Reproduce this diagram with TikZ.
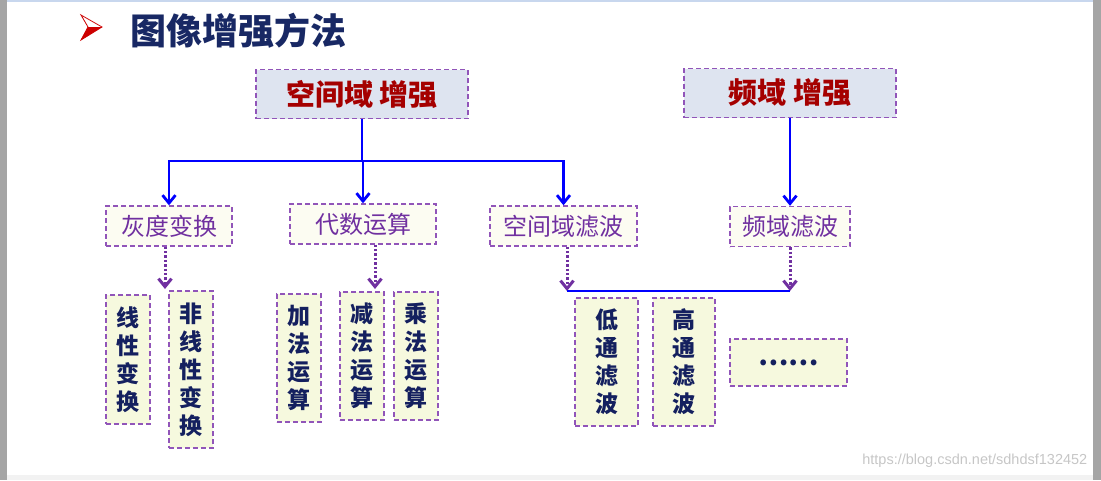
\documentclass[tikz,border=0pt]{standalone}
\usepackage{fontspec}
\newfontfamily\cjk{Noto Sans CJK SC}
\newfontfamily\urlfont{Liberation Sans}
\usetikzlibrary{positioning,arrows.meta}
\definecolor{navy}{RGB}{24,40,100}
\definecolor{leafnavy}{RGB}{20,32,95}
\definecolor{darkred}{RGB}{165,0,0}
\definecolor{violet}{RGB}{112,48,160}
\definecolor{boxline}{RGB}{145,85,185}
\definecolor{pureblue}{RGB}{0,0,255}
\definecolor{topfill}{RGB}{222,228,240}
\definecolor{midfill}{RGB}{252,252,242}
\definecolor{leaffill}{RGB}{246,249,222}
\definecolor{bulletred}{RGB}{205,0,0}
\definecolor{frame}{RGB}{165,165,165}
\definecolor{topline}{RGB}{200,215,238}

\begin{document}
\begin{tikzpicture}[x=1pt,y=-1pt,thick,
    box/.style={draw=boxline,line width=1.3pt,dash pattern=on 5pt off 3pt,inner sep=0pt,align=center},
    topbox/.style={box,fill=topfill,minimum width=212pt,minimum height=49pt,text=darkred,font=\cjk\bfseries\fontsize{29}{32}\selectfont},
    midbox/.style={box,fill=midfill,minimum height=40pt,text=violet,font=\cjk\fontsize{24}{28}\selectfont},
    leafbox/.style={box,fill=leaffill,minimum width=44pt,minimum height=128pt,text=leafnavy,font=\cjk\bfseries\fontsize{23}{28}\selectfont},
    blueline/.style={draw=pureblue,line width=2.8pt},
    bluearrow/.style={blueline,-{Straight Barb[length=8pt,width=13pt]}},
    dotarrow/.style={draw=violet,line width=3pt,dash pattern=on 2.4pt off 2pt,-{Straight Barb[length=8pt,width=13pt]}}]
  \useasboundingbox (0,0) rectangle (1101,480);
  % screenshot frame
  \fill[frame] (0,0) rectangle (7,480);
  \fill[frame] (1093,0) rectangle (1101,480);
  \fill[gray!10] (7,475) rectangle (1093,480);
  \fill[topline] (7,0) rectangle (1093,1.5);

  % heading
  \filldraw[draw=bulletred,fill=white,line width=0.8pt] (81,15) -- (102,27) -- (81,40) -- (88,27) -- cycle;
  \fill[bulletred] (88,27) -- (102,27) -- (81,40) -- cycle;
  \node[text=navy,font=\cjk\bfseries\fontsize{36}{40}\selectfont] (title) at (238,31) {图像增强方法};

  % first level
  \node[topbox] (spatial) at (362,94) {空间域 增强};
  \node[topbox] (freq) at (790,93) {频域 增强};

  % second level
  \node[midbox,minimum width=126pt] (gray) at (169,226) {灰度变换};
  \node[midbox,minimum width=146pt] (alg) at (363,224) {代数运算};
  \node[midbox,minimum width=147pt] (spf) at (563.5,226) {空间域滤波};
  \node[midbox,minimum width=120pt] (fqf) at (790,226.5) {频域滤波};

  % third level
  \node[leafbox,minimum height=129pt] (lin) at (128,359.5) {线\\性\\变\\换};
  \node[leafbox,minimum height=157pt] (nonlin) at (191,369.5) {非\\线\\性\\变\\换};
  \node[leafbox] (add) at (299,358) {加\\法\\运\\算};
  \node[leafbox] (sub) at (362,356) {减\\法\\运\\算};
  \node[leafbox] (mul) at (416,356) {乘\\法\\运\\算};
  \node[leafbox,minimum width=63pt] (low) at (606.5,362) {低\\通\\滤\\波};
  \node[leafbox,minimum width=62pt] (high) at (684,362) {高\\通\\滤\\波};
  \node[leafbox,minimum width=117pt,minimum height=47pt,font=\cjk\bfseries\fontsize{27}{30}\selectfont] (more) at (788.5,362.5) {……};

  % blue connectors
  \coordinate (split) at (362,161);
  \draw[blueline] (spatial) -- (split);
  \draw[bluearrow] (split) -| (gray);
  \draw[bluearrow] (split) -| (alg);
  \draw[bluearrow] (split) -| (spf);
  \draw[bluearrow] (freq) -- (fqf);

  % dotted connectors
  \coordinate (gsplit) at (165,289);
  \coordinate (asplit) at (375,289);
  \coordinate (jl) at (567,291);
  \coordinate (jr) at (790,291);
  \draw[dotarrow] (gray.south -| gsplit) -- (gsplit);
  \draw[dotarrow] (alg.south -| asplit) -- (asplit);
  \draw[dotarrow] (spf.south -| jl) -- (jl);
  \draw[dotarrow] (fqf) -- (jr);
  \draw[blueline] (jl) -- (jr);

  \node[anchor=east,text=gray!45,font=\urlfont\fontsize{14.5}{16}\selectfont] (url) at (1091,461) {https://blog.csdn.net/sdhdsf132452};
\end{tikzpicture}
\end{document}
